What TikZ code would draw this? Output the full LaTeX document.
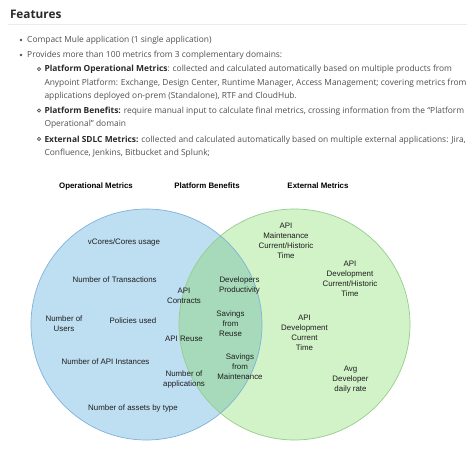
\documentclass[tikz,border=0pt]{standalone}
\usepackage{fontspec}
\setmainfont{Open Sans}
\newfontfamily\venn{Liberation Sans}
\begin{document}
\begin{tikzpicture}[x=1pt,y=-1pt,
  bodytext/.style={anchor=base west,inner sep=0pt,text=txtgrey,font=\fontsize{8.4}{10}\selectfont},
  venntext/.style={align=center,inner sep=0pt,text=venncol,font=\venn\fontsize{7.9}{10}\selectfont},
  venntitle/.style={inner sep=0pt,text=black,font=\venn\bfseries\fontsize{7.9}{10}\selectfont},
  bulletdot/.style={fill=txtgrey,draw=none},
  subdot/.style={draw=txtgrey,line width=0.6pt,fill=none}]
\definecolor{txtgrey}{HTML}{505050}
\definecolor{boldcol}{HTML}{2A2A2A}
\definecolor{venncol}{HTML}{1E1E1E}
\definecolor{bluefill}{RGB}{190,222,242}
\definecolor{blueline}{RGB}{128,178,218}
\definecolor{greenfill}{RGB}{210,242,200}
\definecolor{greenline}{RGB}{150,205,140}
\definecolor{overlap}{RGB}{166,218,186}
\definecolor{sepcol}{HTML}{EBEBEB}
\useasboundingbox (0,0) rectangle (474,452);
\fill[white] (0,0) rectangle (474,452);
% header
\node[anchor=base west,inner sep=0pt,text=boldcol,font=\bfseries\fontsize{11.8}{15}\selectfont] (hdr) at (9.8,18.3) {Features};
\draw[sepcol,line width=1.3pt] (8,24.5) -- (467,24.5);
% bullets
\fill[bulletdot] (21,40) circle (1.4);
\node[bodytext] (l1) at (27,43) {Compact Mule application (1 single application)};
\fill[bulletdot] (21,55) circle (1.4);
\node[bodytext] (l2) at (27,58) {Provides more than 100 metrics from 3 complementary domains:};
\draw[subdot] (39,69) circle (1.6);
\node[bodytext] (l3) at (44.3,72) {\textcolor{boldcol}{\bfseries Platform Operational Metrics}: collected and calculated automatically based on multiple products from};
\node[bodytext] (l4) at (44.3,85.5) {Anypoint Platform: Exchange, Design Center, Runtime Manager, Access Management; covering metrics from};
\node[bodytext] (l5) at (44.3,98.5) {applications deployed on-prem (Standalone), RTF and CloudHub.};
\draw[subdot] (39,110.5) circle (1.6);
\node[bodytext] (l6) at (44.3,113.5) {\textcolor{boldcol}{\bfseries Platform Benefits:} require manual input to calculate final metrics, crossing information from the ``Platform};
\node[bodytext] (l7) at (44.3,126.5) {Operational'' domain};
\draw[subdot] (39,139) circle (1.6);
\node[bodytext] (l8) at (44.3,142) {\textcolor{boldcol}{\bfseries External SDLC Metrics:} collected and calculated automatically based on multiple external applications: Jira,};
\node[bodytext] (l9) at (44.3,155) {Confluence, Jenkins, Bitbucket and Splunk;};
% venn
\coordinate (bc) at (146.5,324.5);
\coordinate (gc) at (294.5,324.5);
\fill[bluefill] (bc) circle (115.5);
\fill[greenfill] (gc) circle (115.5);
\begin{scope}
\clip (bc) circle (115.5);
\fill[overlap] (gc) circle (115.5);
\end{scope}
\draw[blueline,line width=0.7pt] (bc) circle (115.5);
\draw[greenline,line width=0.7pt] (gc) circle (115.5);
% titles
\node[venntitle] (t1) at (96,186) {Operational Metrics};
\node[venntitle] (t2) at (207,186) {Platform Benefits};
\node[venntitle] (t3) at (318,186) {External Metrics};
% blue items
\node[venntext] (a1) at (124,242) {vCores/Cores usage};
\node[venntext] (a2) at (114.7,279.5) {Number of Transactions};
\node[venntext] (a3) at (184,296) {API\\Contracts};
\node[venntext] (a4) at (64,324) {Number of\\Users};
\node[venntext] (a5) at (133,321) {Policies used};
\node[venntext] (a6) at (184,339) {API Reuse};
\node[venntext] (a7) at (105.5,362) {Number of API Instances};
\node[venntext] (a8) at (184,379) {Number of\\applications};
\node[venntext] (a9) at (133,408) {Number of assets by type};
% overlap items
\node[venntext] (b1) at (239.5,285) {Developers\\Productivity};
\node[venntext] (b2) at (230.5,324) {Savings\\from\\Reuse};
\node[venntext] (b3) at (240,367) {Savings\\from\\Maintenance};
% green items
\node[venntext] (c1) at (286,241) {API\\Maintenance\\Current/Historic\\Time};
\node[venntext] (c2) at (350,279) {API\\Development\\Current/Historic\\Time};
\node[venntext] (c3) at (304.5,332.5) {API\\Development\\Current\\Time};
\node[venntext] (c4) at (350.5,380) {Avg\\Developer\\daily rate};
\end{tikzpicture}
\end{document}
